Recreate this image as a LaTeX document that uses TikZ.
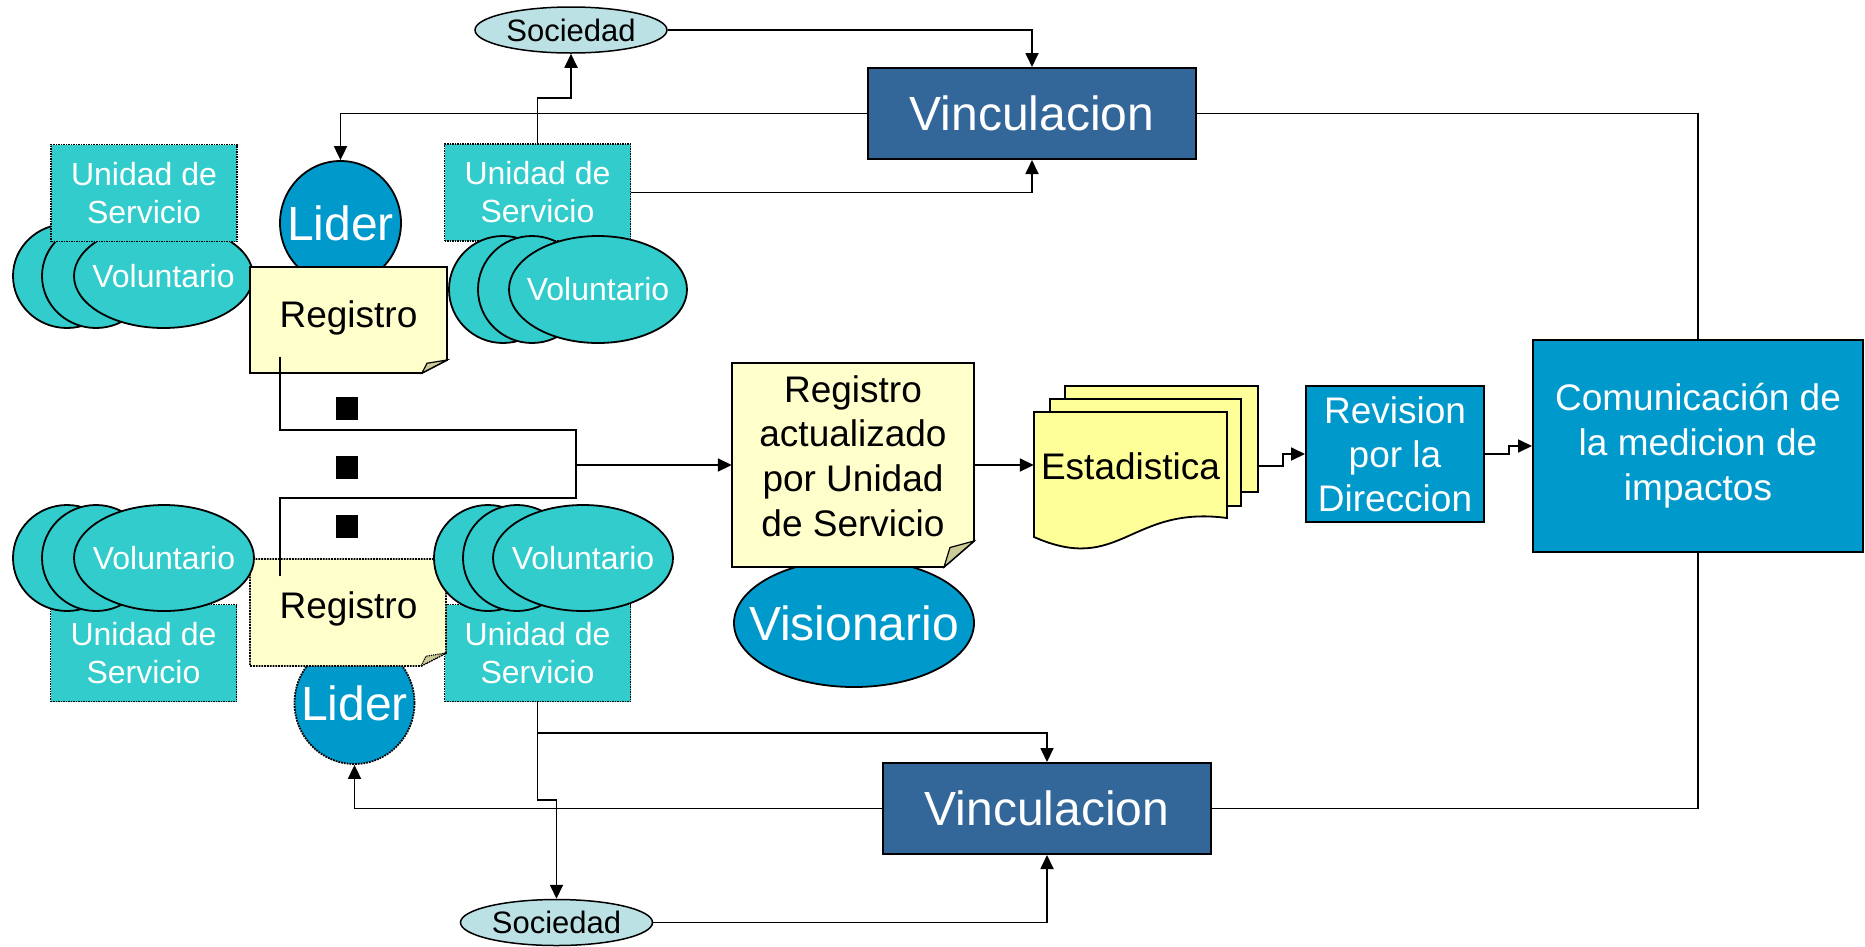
\documentclass[tikz,border=0pt]{standalone}
\usepackage{fontspec}
\setmainfont{Liberation Sans}
\usetikzlibrary{shapes.geometric,arrows.meta,calc}
\definecolor{teal1}{HTML}{33CCCC}
\definecolor{blue1}{HTML}{0099CC}
\definecolor{vinc}{HTML}{336699}
\definecolor{soc}{HTML}{BBE1E5}
\definecolor{regf}{HTML}{FFFFCC}
\definecolor{foldf}{HTML}{CCCC99}
\definecolor{estf}{HTML}{FFFF99}
\newcommand{\myfs}[2]{\fontsize{#1}{#2}\selectfont}
\newcommand{\zw}[1]{\makebox[0pt][c]{#1}}
\newcommand{\dogear}[7][]{%
  \filldraw[fill=regf, line width=1.8pt, #1] (#2,#3) -- (#4,#3) -- (#4,#5-#7) -- (#4-#6,#5) -- (#2,#5) -- cycle;
  \filldraw[fill=foldf, line width=1.2pt, #1] (#4,#5-#7) -- (#4-#6,#5) -- (#4-0.8*#6,#5-0.75*#7) -- cycle;}
\tikzset{
  uds/.style={rectangle, fill=teal1, draw=black, densely dotted, line width=1.5pt, text=white, align=center, font=\myfs{32}{38}, minimum width=186, minimum height=97, inner sep=0},
  vol/.style={ellipse, fill=teal1, draw=black, line width=1.8pt, text=white, font=\myfs{32}{38}, inner sep=0},
  lid/.style={ellipse, fill=blue1, draw=black, line width=1.8pt, text=white, font=\myfs{48}{54}, minimum width=121, minimum height=124, inner sep=0},
  vinbox/.style={rectangle, fill=vinc, draw=black, line width=2pt, text=white, font=\myfs{48}{54}, minimum width=328, minimum height=91, inner sep=0},
  socnode/.style={ellipse, fill=soc, draw=black, line width=1.5pt, font=\myfs{31}{36}, minimum width=192, minimum height=46, inner sep=0},
  bluebox/.style={rectangle, fill=blue1, draw=black, line width=2pt, text=white, align=center, inner sep=0},
  page/.style={rectangle, fill=estf, draw=black, line width=1.8pt, inner sep=0},
  txt/.style={inner sep=0, align=center},
  sq/.style={rectangle, fill=black, minimum width=22, minimum height=23, inner sep=0},
  conn/.style={line width=1.8pt},
  arr/.style={conn, -{Triangle[length=14pt,width=13pt]}}
}
\begin{document}
\begin{tikzpicture}[x=1pt,y=-1pt]
\useasboundingbox (0,0) rectangle (1865,946);
% top-left group
\node[vol, minimum width=108, minimum height=104] (v1a) at (67,276) {};
\node[vol, minimum width=108, minimum height=104] (v1b) at (96,276) {};
\node[vol, minimum width=179, minimum height=104] (v1) at (163.5,276) {\zw{Voluntario}};
\node[uds] (u1) at (144,193) {Unidad de\\Servicio};
\node[lid] (l1) at (340.5,223) {\zw{Lider}};
\dogear{250}{267}{447}{373}{25}{13}
\node[txt, font=\myfs{37}{44}] (r1) at (348.5,318) {Registro};
% top-right group
\node[uds] (u2) at (537.5,192.5) {Unidad de\\Servicio};
\node[vol, minimum width=108, minimum height=107] (v2a) at (503,289.5) {};
\node[vol, minimum width=108, minimum height=107] (v2b) at (532,289.5) {};
\node[vol, minimum width=178, minimum height=107] (v2) at (598,289.5) {\zw{Voluntario}};
% top
\node[socnode] (s1) at (571,30) {\zw{Sociedad}};
\node[vinbox] (vn1) at (1032,113.5) {Vinculacion};
% bottom groups
\node[uds] (u3) at (143.5,653) {Unidad de\\Servicio};
\node[uds] (u4) at (537.5,653) {Unidad de\\Servicio};
\node[lid, densely dotted, minimum width=120, minimum height=122] (l2) at (354.5,703) {\zw{Lider}};
\dogear[densely dotted]{250}{559}{446}{666}{25}{13}
\node[txt, font=\myfs{37}{44}] (r2) at (348.5,609) {Registro};
\node[vol, minimum width=108, minimum height=106] (v3a) at (67,558) {};
\node[vol, minimum width=108, minimum height=106] (v3b) at (96,558) {};
\node[vol, minimum width=180, minimum height=106] (v3) at (164,558) {\zw{Voluntario}};
\node[vol, minimum width=108, minimum height=106] (v4a) at (488,558) {};
\node[vol, minimum width=108, minimum height=106] (v4b) at (517,558) {};
\node[vol, minimum width=180, minimum height=106] (v4) at (583,558) {\zw{Voluntario}};
\node[socnode] (s2) at (556.5,922.5) {\zw{Sociedad}};
\node[vinbox] (vn2) at (1047,808.5) {Vinculacion};
% squares
\node[sq] (q1) at (347,408) {};
\node[sq] (q2) at (347,467) {};
\node[sq] (q3) at (347,526) {};
% centre
\node[lid, minimum width=240, minimum height=128] (vis) at (854,623) {\zw{Visionario}};
\dogear{732}{363}{974}{567}{30}{26}
\node[txt, font=\myfs{37}{44.6}, minimum width=242] (ra) at (853,456) {Registro\\actualizado\\por Unidad\\de Servicio};
\node[page, minimum width=193, minimum height=106] (e3) at (1161.5,439) {};
\node[page, minimum width=191, minimum height=107] (e2) at (1145.5,452.5) {};
\filldraw[fill=estf, line width=1.8pt] (1034,412) -- (1227,412) -- (1227,518) .. controls (1130,505) and (1120,575) .. (1034,537) -- cycle;
\node[txt, font=\myfs{37}{44}, minimum width=193] (es) at (1130.5,466) {Estadistica};
\node[bluebox, minimum width=178, minimum height=136, font=\myfs{37}{44}] (rv) at (1395,454) {Revision\\por la\\Direccion};
\node[bluebox, minimum width=330, minimum height=212, font=\myfs{37}{45}] (cm) at (1698,446) {Comunicación de\\la medicion de\\impactos};
% connectors
\coordinate (r1s) at (280,357);
\coordinate (r2s) at (280,576);
\coordinate (jn) at (576,465);
\draw[arr] (s1.east) -| (vn1.north);
\draw[arr] (vn1.west) -| (l1.north);
\draw[arr] (u2.north) -- ++(0,-45) -| (s1.south);
\draw[arr] (u2.east) -| (vn1.south);
\draw[conn] (vn1.east) -| (cm.north);
\draw[conn] (r1s) -- ++(0,73) -| (jn);
\draw[conn] (r2s) -- ++(0,-78) -| (jn);
\draw[arr] (jn) -- (jn -| ra.west);
\draw[arr] (ra.east |- jn) -- (es.west |- jn);
\draw[arr] (e3.east |- es.center) -- ++(24,0) |- (rv.west);
\draw[arr] (rv.east) -- ++(24,0) |- (cm.west);
\draw[arr] (u4.south) -- ++(0,31) -| (vn2.north);
\draw[arr] (u4.south) -- ++(0,98) -| (s2.north);
\draw[arr] (vn2.west) -| (l2.south);
\draw[arr] (s2.east) -| (vn2.south);
\draw[conn] (vn2.east) -| (cm.south);
\end{tikzpicture}
\end{document}
